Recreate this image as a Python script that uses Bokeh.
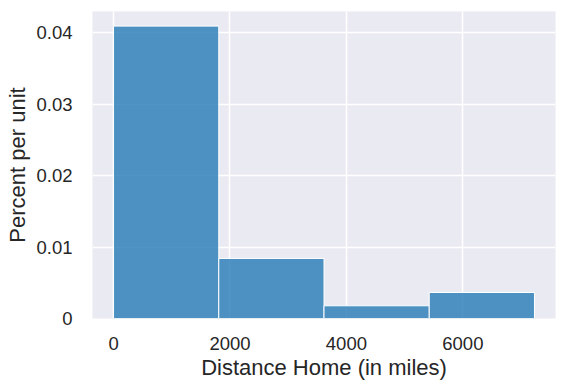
from bokeh.plotting import figure
from bokeh.models import FixedTicker, Range1d, ColumnDataSource
from bokeh.embed import file_html
from bokeh.resources import INLINE

bin_edges = [0, 1807.5, 3615, 5422.5, 7230]
percent_per_unit = [0.04094, 0.00841, 0.00178, 0.00364]
x_ticks = [0, 2000, 4000, 6000]
y_ticks = [0, 0.01, 0.02, 0.03, 0.04]
y_tick_labels = ["0", "0.01", "0.02", "0.03", "0.04"]

FONT = "Liberation Sans"

src = ColumnDataSource(dict(
    left=bin_edges[:-1],
    right=bin_edges[1:],
    top=percent_per_unit,
    bottom=[0] * len(percent_per_unit),
))

span = bin_edges[-1] - bin_edges[0]
p = figure(width=565, height=389, output_backend="svg", toolbar_location=None,
           x_range=Range1d(bin_edges[0] - 0.05 * span, bin_edges[-1] + 0.05 * span),
           y_range=Range1d(0, max(percent_per_unit) * 1.05),
           min_border_left=92, min_border_right=10, min_border_top=11, min_border_bottom=71)

p.quad(left="left", right="right", top="top", bottom="bottom", source=src,
       fill_color="#1f77b4", fill_alpha=0.78, line_color="white", line_width=1)

p.background_fill_color = "#EAEAF2"
p.border_fill_color = "white"
p.outline_line_color = None

for ax in (p.xaxis[0], p.yaxis[0]):
    ax.axis_line_color = None
    ax.major_tick_line_color = None
    ax.minor_tick_line_color = None
    ax.major_tick_out = 0
    ax.major_tick_in = 0
    ax.minor_tick_out = 0
    ax.major_label_text_font = FONT
    ax.major_label_text_font_size = "18.5px"
    ax.major_label_text_color = "#262626"
    ax.axis_label_text_font = FONT
    ax.axis_label_text_font_size = "22px"
    ax.axis_label_text_font_style = "normal"
    ax.axis_label_text_color = "#262626"

p.xaxis.ticker = FixedTicker(ticks=x_ticks)
p.yaxis.ticker = FixedTicker(ticks=y_ticks)
p.yaxis.major_label_overrides = {t: l for t, l in zip(y_ticks, y_tick_labels)}
p.xaxis.axis_label = "Distance Home (in miles)"
p.yaxis.axis_label = "Percent per unit"
p.xaxis.major_label_standoff = 18
p.yaxis.major_label_standoff = 20
p.xaxis.axis_label_standoff = 2
p.yaxis.axis_label_standoff = 3

p.xgrid.ticker = FixedTicker(ticks=x_ticks)
p.ygrid.ticker = FixedTicker(ticks=y_ticks)
p.grid.grid_line_color = "white"
p.grid.grid_line_width = 1.5

open("out.html", "w").write(file_html(p, INLINE))
